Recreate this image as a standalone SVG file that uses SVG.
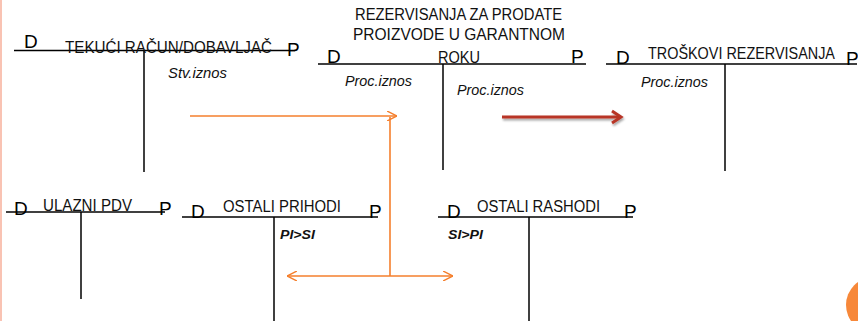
<svg xmlns="http://www.w3.org/2000/svg" width="858" height="321" viewBox="0 0 858 321">
<defs>
<style>
.ln{stroke:#000;stroke-width:1.5;fill:none}
.dp{font-family:"Liberation Sans",Arial,sans-serif;font-size:19px;fill:#000}
.tt{font-family:"Liberation Sans",Arial,sans-serif;font-size:16px;fill:#111}
.it{font-family:"Liberation Sans",Arial,sans-serif;font-size:14px;font-style:italic;fill:#111}
.bi{font-family:"Liberation Sans",Arial,sans-serif;font-size:13px;font-style:italic;font-weight:bold;fill:#111}
.or{stroke:#F57F2C;stroke-width:1.6;fill:none}
</style>
<marker id="oa" viewBox="0 0 10 10" refX="10" refY="5" markerWidth="10" markerHeight="10" markerUnits="userSpaceOnUse" orient="auto-start-reverse">
<path d="M0,0 L10,5 L0,10" fill="none" stroke="#F57F2C" stroke-width="1.4"/>
</marker>
<filter id="sh" x="-10%" y="-100%" width="120%" height="300%">
<feDropShadow dx="1" dy="2" stdDeviation="1.2" flood-color="#000" flood-opacity="0.35"/>
</filter>
</defs>
<rect width="858" height="321" fill="#fff"/>
<rect x="0" y="0" width="2" height="321" fill="#F9C3B3"/>
<circle cx="874" cy="305" r="28" fill="#F7883A"/>

<g id="tekuci-racun">
<line class="ln" x1="14" y1="50.5" x2="295" y2="50.5"/>
<line class="ln" x1="144" y1="50.5" x2="144" y2="172"/>
<text class="dp" x="24" y="48">D</text>
<text class="tt" x="65" y="53" textLength="207" lengthAdjust="spacingAndGlyphs">TEKUĆI RAČUN/DOBAVLJAČ</text>
<text class="dp" x="287" y="56">P</text>
<text class="it" x="168" y="78" textLength="59" lengthAdjust="spacingAndGlyphs">Stv.iznos</text>
</g>

<g id="rezervisanja">
<text class="tt" x="355" y="20" textLength="207" lengthAdjust="spacingAndGlyphs">REZERVISANJA ZA PRODATE</text>
<text class="tt" x="353" y="40" textLength="212" lengthAdjust="spacingAndGlyphs">PROIZVODE U GARANTNOM</text>
<line class="ln" x1="318" y1="64" x2="586" y2="64"/>
<line class="ln" x1="443" y1="64" x2="443" y2="170"/>
<text class="dp" x="327" y="63">D</text>
<text class="tt" x="438" y="63" textLength="42" lengthAdjust="spacingAndGlyphs">ROKU</text>
<text class="dp" x="571" y="63">P</text>
<text class="it" x="345" y="86" textLength="67" lengthAdjust="spacingAndGlyphs">Proc.iznos</text>
<text class="it" x="457" y="95" textLength="67" lengthAdjust="spacingAndGlyphs">Proc.iznos</text>
</g>

<g id="troskovi-rezervisanja">
<line class="ln" x1="606" y1="64" x2="857" y2="64"/>
<line class="ln" x1="725" y1="64" x2="725" y2="171"/>
<text class="dp" x="616" y="64">D</text>
<text class="tt" transform="translate(648,59) scale(0.9,1)" x="0" y="0">TROŠKOVI REZERVISANJA</text>
<text class="dp" x="846" y="65">P</text>
<text class="it" x="641" y="87" textLength="67" lengthAdjust="spacingAndGlyphs">Proc.iznos</text>
</g>

<g id="ulazni-pdv">
<line class="ln" x1="6" y1="212" x2="165" y2="212"/>
<line class="ln" x1="81" y1="212" x2="81" y2="299"/>
<text class="dp" x="14" y="215">D</text>
<text class="tt" x="43" y="211" textLength="89" lengthAdjust="spacingAndGlyphs">ULAZNI PDV</text>
<text class="dp" x="159" y="215">P</text>
</g>

<g id="ostali-prihodi">
<line class="ln" x1="182" y1="217" x2="378" y2="217"/>
<line class="ln" x1="274" y1="217" x2="274" y2="321"/>
<text class="dp" x="191" y="218">D</text>
<text class="tt" x="223" y="212" textLength="118" lengthAdjust="spacingAndGlyphs">OSTALI PRIHODI</text>
<text class="dp" x="369" y="218">P</text>
<text class="bi" x="280" y="239" textLength="35" lengthAdjust="spacingAndGlyphs">PI&gt;SI</text>
</g>

<g id="ostali-rashodi">
<line class="ln" x1="438" y1="217" x2="633" y2="217"/>
<line class="ln" x1="529" y1="217" x2="529" y2="321"/>
<text class="dp" x="447" y="218">D</text>
<text class="tt" x="477" y="212" textLength="123" lengthAdjust="spacingAndGlyphs">OSTALI RASHODI</text>
<text class="dp" x="624" y="218">P</text>
<text class="bi" x="448" y="239" textLength="35" lengthAdjust="spacingAndGlyphs">SI&gt;PI</text>
</g>

<g id="connectors">
<line class="or" x1="190" y1="116" x2="397" y2="116" marker-end="url(#oa)"/>
<line class="or" x1="390" y1="117" x2="390" y2="276"/>
<line class="or" x1="287" y1="276" x2="453" y2="276" marker-start="url(#oa)" marker-end="url(#oa)"/>
<g filter="url(#sh)" stroke="#B83525" stroke-width="3" fill="none">
<line x1="502" y1="117" x2="620" y2="117"/>
<path d="M612,111 L621,117 L612,123"/>
</g>
</g>
</svg>
